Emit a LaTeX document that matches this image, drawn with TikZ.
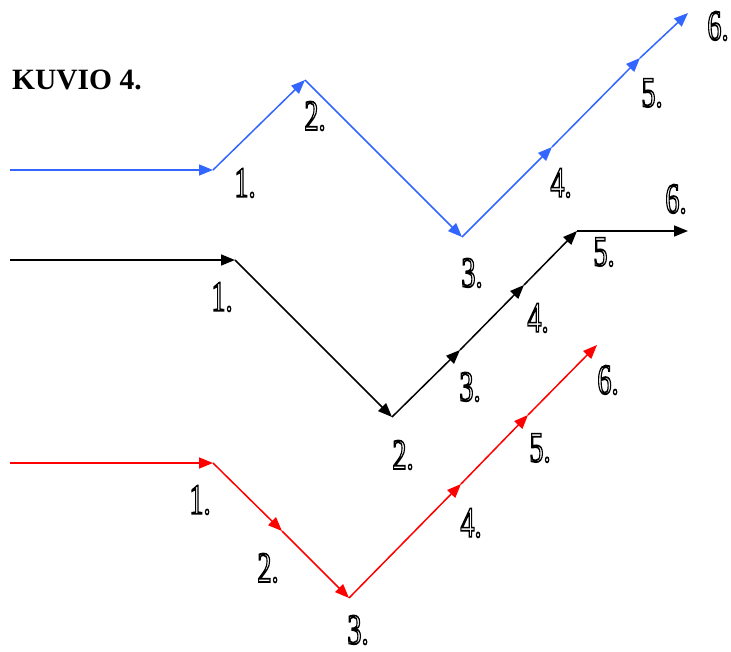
\documentclass[tikz,border=0pt]{standalone}
\usepackage{fontspec}
\setmainfont{Liberation Serif}
\usepackage{graphicx}
\usetikzlibrary{arrows.meta}
\definecolor{lblue}{RGB}{51,102,255}
\definecolor{lred}{RGB}{255,0,0}
\newcommand{\outl}[1]{\scalebox{0.66}[1]{\special{pdf:literal direct 1 Tr 1.7 w}#1\special{pdf:literal direct 0 Tr}}}
\tikzset{
  seg/.style={line width=1.5pt, -{Triangle[length=14pt,width=11pt]}},
  lbl/.style={inner sep=0pt, font=\fontsize{43}{43}\selectfont},
}
\begin{document}
\begin{tikzpicture}[x=1pt,y=-1pt]
\useasboundingbox (0,0) rectangle (731,652);
\node[anchor=base west, inner sep=0pt, font=\fontsize{29.5}{29.5}\selectfont\bfseries] (title) at (12,90) {KUVIO 4.};
% blue
\coordinate (b0) at (10,170);
\coordinate (b1) at (213,170);
\coordinate (b2) at (305,80);
\coordinate (b3) at (462,237);
\coordinate (b4) at (552,147);
\coordinate (b5) at (640,58);
\coordinate (b6) at (688,13);
\foreach \a/\b in {b0/b1,b1/b2,b2/b3,b3/b4,b4/b5,b5/b6}
  \draw[seg, lblue] (\a) -- (\b);
% black
\coordinate (k0) at (10,260);
\coordinate (k1) at (235,260);
\coordinate (k2) at (392,417);
\coordinate (k3) at (460,350);
\coordinate (k4) at (524,285);
\coordinate (k5) at (577,231);
\coordinate (k6) at (688,231);
\foreach \a/\b in {k0/k1,k1/k2,k2/k3,k3/k4,k4/k5,k5/k6}
  \draw[seg, black] (\a) -- (\b);
% red
\coordinate (r0) at (10,463);
\coordinate (r1) at (213,463);
\coordinate (r2) at (282,531);
\coordinate (r3) at (349,598);
\coordinate (r4) at (461,484);
\coordinate (r5) at (528,415);
\coordinate (r6) at (597,345);
\foreach \a/\b in {r0/r1,r1/r2,r2/r3,r3/r4,r4/r5,r5/r6}
  \draw[seg, lred] (\a) -- (\b);
% labels blue
\node[lbl] (bl1) at (245,183) {\outl{1.}};
\node[lbl] (bl2) at (315,116) {\outl{2.}};
\node[lbl] (bl3) at (472,273) {\outl{3.}};
\node[lbl] (bl4) at (561,183) {\outl{4.}};
\node[lbl] (bl5) at (652,93) {\outl{5.}};
\node[lbl] (bl6) at (718,26) {\outl{6.}};
% labels black
\node[lbl] (kl1) at (222,297) {\outl{1.}};
\node[lbl] (kl2) at (403,455) {\outl{2.}};
\node[lbl] (kl3) at (470,387) {\outl{3.}};
\node[lbl] (kl4) at (538,318) {\outl{4.}};
\node[lbl] (kl5) at (604,252) {\outl{5.}};
\node[lbl] (kl6) at (676,199) {\outl{6.}};
% labels red
\node[lbl] (rl1) at (200,500) {\outl{1.}};
\node[lbl] (rl2) at (268,568) {\outl{2.}};
\node[lbl] (rl3) at (358,630) {\outl{3.}};
\node[lbl] (rl4) at (471,523) {\outl{4.}};
\node[lbl] (rl5) at (540,448) {\outl{5.}};
\node[lbl] (rl6) at (608,380) {\outl{6.}};
\end{tikzpicture}
\end{document}
